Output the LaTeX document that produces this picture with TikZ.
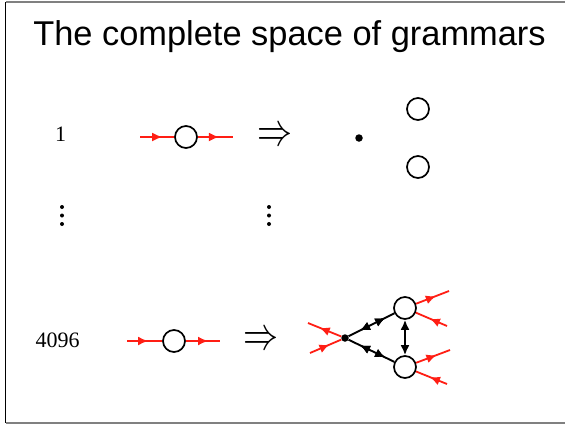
\documentclass[tikz,border=0pt]{standalone}
\usepackage{fontspec}
\setmainfont{Liberation Serif}
\newfontfamily\titlefont{Liberation Sans}
\usetikzlibrary{arrows.meta,decorations.markings}
\tikzset{
  vert/.style={circle, draw, line width=1.7pt, minimum size=22pt, inner sep=0pt},
  junc/.style={circle, fill, minimum size=7.5pt, inner sep=0pt},
  redline/.style={color={rgb,255:red,255;green,30;blue,20}, line width=1.8pt},
  blkline/.style={black, line width=1.9pt},
  fwd/.style={postaction={decorate}, decoration={markings, mark=at position #1 with {\arrow{Latex[length=10pt,width=9pt]}}}},
  bwd/.style={postaction={decorate}, decoration={markings, mark=at position #1 with {\arrowreversed{Latex[length=10pt,width=9pt]}}}},
  lbl/.style={font=\fontsize{22}{24}\selectfont, inner sep=0pt},
  impl/.style={inner sep=0pt},
  frameline/.style={line width=1.5pt}
}
\newcommand{\bigimpl}{\resizebox{35pt}{17pt}{$\Rightarrow$}}
\begin{document}
\begin{tikzpicture}[x=1pt,y=-1pt]
\useasboundingbox (0,0) rectangle (565,424);
% frame
\draw[frameline, gray] (5.5,2) -- (565,2);
\draw[frameline, black] (5.5,2) -- (5.5,423);
\draw[frameline, gray] (5.5,423) -- (565,423);
% title
\node[font=\titlefont\fontsize{34.4}{40}\selectfont, inner sep=0pt, anchor=base] (title) at (289.5,45) {The complete space of grammars};
% row 1
\node[lbl] (n1) at (60.5,134) {1};
\coordinate (a1) at (140,137);
\coordinate (b1) at (233,137);
\node[vert] (c1) at (186,137) {};
\draw[redline, fwd=0.65] (a1) -- (c1);
\draw[redline, fwd=0.6] (c1) -- (b1);
\node[impl] (r1) at (274.5,137) {\bigimpl};
\node[junc] (d1) at (359,138) {};
\node[vert] (p1) at (418,109) {};
\node[vert] (q1) at (418,167) {};
% vertical dots
\foreach \yy in {207,215.5,224} {
  \fill (62,\yy) circle (2);
  \fill (269,\yy) circle (2);
}
% row 2
\node[lbl] (n2) at (57.5,340) {4096};
\coordinate (a2) at (127,341);
\coordinate (b2) at (220,341);
\node[vert] (c2) at (174,341) {};
\draw[redline, fwd=0.6] (a2) -- (c2);
\draw[redline, fwd=0.65] (c2) -- (b2);
\node[impl] (r2) at (260.5,341) {\bigimpl};
% graph
\node[junc] (j) at (345,338) {};
\node[vert] (u) at (405,308) {};
\node[vert] (l) at (405,367) {};
\draw[blkline, bwd=0.25, fwd=0.8] (j) -- (u);
\draw[blkline, bwd=0.25, fwd=0.8] (j) -- (l);
\draw[blkline, {Latex[length=10pt,width=9pt]}-{Latex[length=10pt,width=9pt]}] (u) -- (l);
\coordinate (o1) at (308,323);
\coordinate (o2) at (310,353);
\coordinate (o3) at (449,291);
\coordinate (o4) at (447,326);
\coordinate (o5) at (450,350);
\coordinate (o6) at (447,384);
\draw[redline, fwd=0.65] (j) -- (o1);
\draw[redline, fwd=0.62] (o2) -- (j);
\draw[redline, fwd=0.6] (u) -- (o3);
\draw[redline, fwd=0.55] (o4) -- (u);
\draw[redline, fwd=0.6] (l) -- (o5);
\draw[redline, fwd=0.55] (o6) -- (l);
\end{tikzpicture}
\end{document}
